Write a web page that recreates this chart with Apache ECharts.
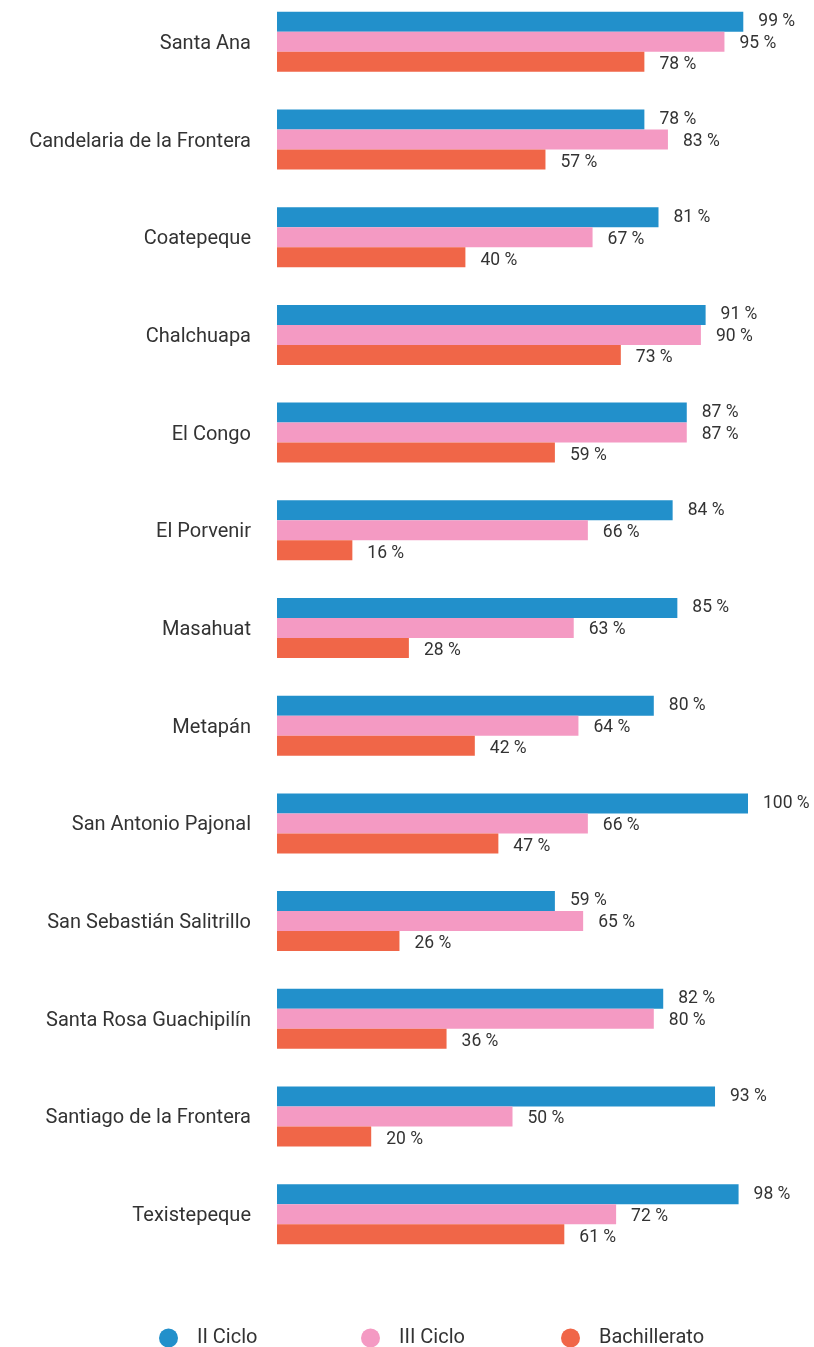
<!DOCTYPE html>
<html><head><meta charset="utf-8">
<script src="https://cdn.jsdelivr.net/npm/echarts@6/dist/echarts.min.js"></script>
<style>html,body{margin:0;padding:0;background:#fff;overflow:hidden}#c{width:814px;height:1354px;margin-top:-7px}</style>
</head><body><div id="c"></div>
<script>
const categories = ["Santa Ana","Candelaria de la Frontera","Coatepeque","Chalchuapa","El Congo","El Porvenir","Masahuat","Metapán","San Antonio Pajonal","San Sebastián Salitrillo","Santa Rosa Guachipilín","Santiago de la Frontera","Texistepeque"];
const seriesNames = ["II Ciclo","III Ciclo","Bachillerato"];
const iiCiclo = [99,78,81,91,87,84,85,80,100,59,82,93,98];
const iiiCiclo = [95,83,67,90,87,66,63,64,66,65,80,50,72];
const bachillerato = [78,57,40,73,59,16,28,42,47,26,36,20,61];
const colors = ["#2290cb","#f49ac3","#f06648"];
const textColor = "#333333";
const font = "Roboto";
const chart = echarts.init(document.getElementById('c'));
function mk(name, data, color, dy){
  return {name, type:'bar', data, barWidth:20, barGap:'0%',
    itemStyle:{color},
    label:{show:true, position:'right', distance:15, offset:[0,dy], formatter: p => p.value + ' %',
      color:textColor, fontSize:17.5, fontFamily:font}};
}
const legendLefts = [154, 356, 556];
chart.setOption({
  animation:false,
  color: colors,
  grid:{left:277, right:66, top:0, height:1270, containLabel:false},
  xAxis:{type:'value', min:0, max:100, show:false},
  yAxis:{type:'category', data:categories, inverse:true,
    axisLine:{show:false}, axisTick:{show:false}, splitLine:{show:false},
    axisLabel:{margin:26, formatter: v => '{a|' + v + '}',
      rich:{a:{color:textColor, fontSize:20, fontFamily:font, padding:[4,0,0,0]}}}},
  legend: seriesNames.map((n,i)=>({data:[n], left:legendLefts[i], top:1330, icon:'circle', itemWidth:19, itemHeight:19,
    textStyle:{color:textColor, fontSize:20, fontFamily:font, padding:[0,0,0,14]}})),
  series:[mk(seriesNames[0], iiCiclo, colors[0], 0), mk(seriesNames[1], iiiCiclo, colors[1], 2), mk(seriesNames[2], bachillerato, colors[2], 3)]
});
</script></body></html>
